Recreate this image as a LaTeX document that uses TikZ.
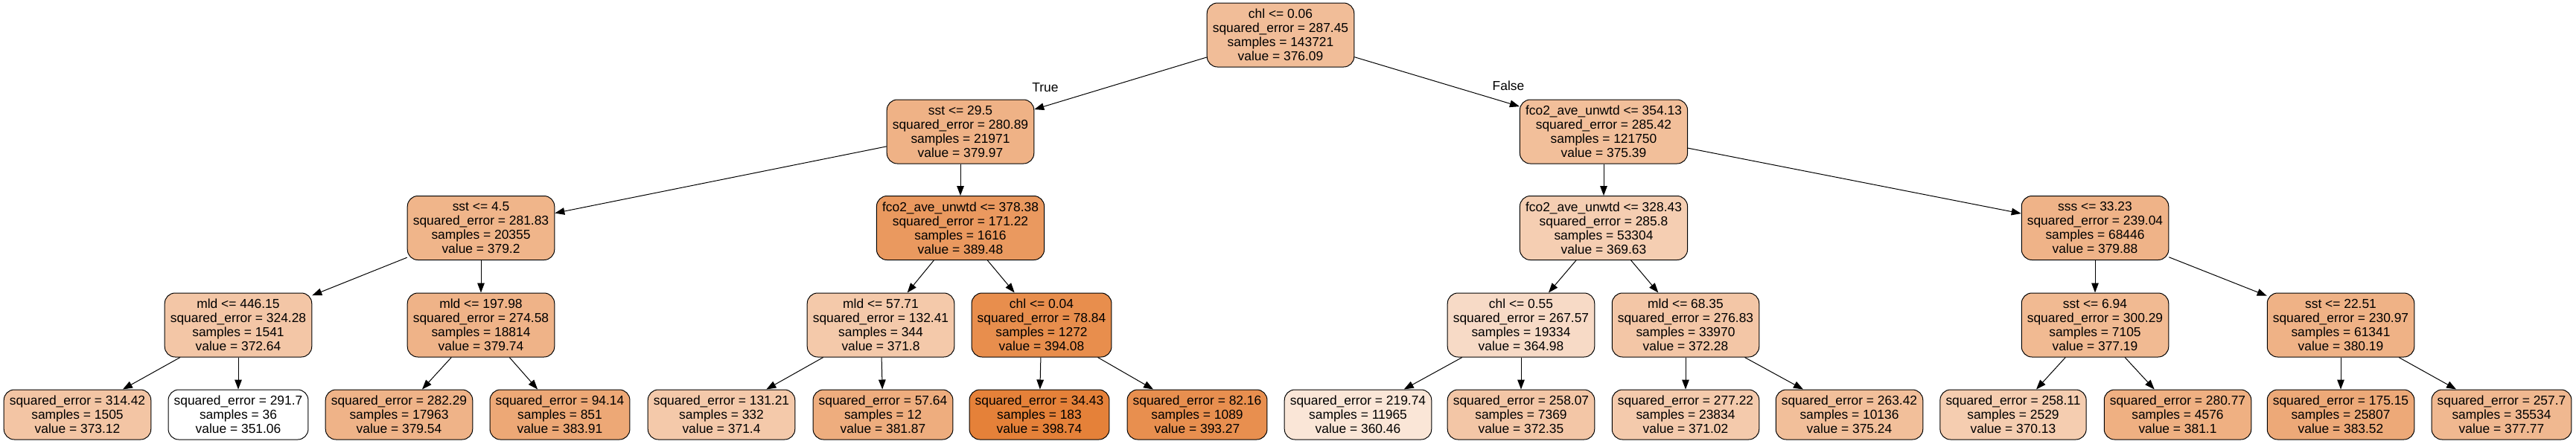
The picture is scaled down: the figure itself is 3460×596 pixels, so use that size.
\documentclass[tikz,border=0pt]{standalone}
\usepackage{fontspec}
\setmainfont{Liberation Sans}
\usetikzlibrary{arrows.meta}
\definecolor{treeorange}{HTML}{E58139}

\begin{document}
\begin{tikzpicture}[x=0.5pt,y=-0.5pt,line width=0.5pt,>={Triangle[length=6.5pt,width=4.8pt]},
    box/.style={shape=rectangle,draw=black,rounded corners=7pt,align=center,
        font=\fontsize{8.7}{9.5}\selectfont,inner xsep=3.8pt},
    split/.style={box,minimum height=43pt},
    leaf/.style={box,minimum height=33.5pt},
    lbl/.style={font=\fontsize{8.7}{9.5}\selectfont}]
    \useasboundingbox (0,0) rectangle (3460,596);
    \node[split,fill=treeorange!52] (0) at (1720,47) {chl <= 0.06\\squared\_error = 287.45\\samples = 143721\\value = 376.09};
    \node[split,fill=treeorange!61] (1) at (1290,177) {sst <= 29.5\\squared\_error = 280.89\\samples = 21971\\value = 379.97};
    \node[split,fill=treeorange!51] (16) at (2154,177) {fco2\_ave\_unwtd <= 354.13\\squared\_error = 285.42\\samples = 121750\\value = 375.39};
    \node[split,fill=treeorange!59] (2) at (646,306.5) {sst <= 4.5\\squared\_error = 281.83\\samples = 20355\\value = 379.2};
    \node[split,fill=treeorange!81] (9) at (1290,306.5) {fco2\_ave\_unwtd <= 378.38\\squared\_error = 171.22\\samples = 1616\\value = 389.48};
    \node[split,fill=treeorange!39] (17) at (2154,306.5) {fco2\_ave\_unwtd <= 328.43\\squared\_error = 285.8\\samples = 53304\\value = 369.63};
    \node[split,fill=treeorange!60] (24) at (2814,306.5) {sss <= 33.23\\squared\_error = 239.04\\samples = 68446\\value = 379.88};
    \node[split,fill=treeorange!45] (3) at (320,437) {mld <= 446.15\\squared\_error = 324.28\\samples = 1541\\value = 372.64};
    \node[split,fill=treeorange!60] (6) at (646,437) {mld <= 197.98\\squared\_error = 274.58\\samples = 18814\\value = 379.74};
    \node[split,fill=treeorange!43] (10) at (1183,437) {mld <= 57.71\\squared\_error = 132.41\\samples = 344\\value = 371.8};
    \node[split,fill=treeorange!90] (13) at (1399,437) {chl <= 0.04\\squared\_error = 78.84\\samples = 1272\\value = 394.08};
    \node[split,fill=treeorange!29] (18) at (2043,437) {chl <= 0.55\\squared\_error = 267.57\\samples = 19334\\value = 364.98};
    \node[split,fill=treeorange!45] (21) at (2264,437) {mld <= 68.35\\squared\_error = 276.83\\samples = 33970\\value = 372.28};
    \node[split,fill=treeorange!55] (25) at (2814,437) {sst <= 6.94\\squared\_error = 300.29\\samples = 7105\\value = 377.19};
    \node[split,fill=treeorange!61] (28) at (3144,437) {sst <= 22.51\\squared\_error = 230.97\\samples = 61341\\value = 380.19};
    \node[leaf,fill=treeorange!46] (4) at (104,557.5) {squared\_error = 314.42\\samples = 1505\\value = 373.12};
    \node[leaf,fill=white] (5) at (320,557.5) {squared\_error = 291.7\\samples = 36\\value = 351.06};
    \node[leaf,fill=treeorange!60] (7) at (536,557.5) {squared\_error = 282.29\\samples = 17963\\value = 379.54};
    \node[leaf,fill=treeorange!69] (8) at (752,557.5) {squared\_error = 94.14\\samples = 851\\value = 383.91};
    \node[leaf,fill=treeorange!43] (11) at (969,557.5) {squared\_error = 131.21\\samples = 332\\value = 371.4};
    \node[leaf,fill=treeorange!65] (12) at (1186,557.5) {squared\_error = 57.64\\samples = 12\\value = 381.87};
    \node[leaf,fill=treeorange] (14) at (1396,557.5) {squared\_error = 34.43\\samples = 183\\value = 398.74};
    \node[leaf,fill=treeorange!89] (15) at (1608,557.5) {squared\_error = 82.16\\samples = 1089\\value = 393.27};
    \node[leaf,fill=treeorange!20] (19) at (1824,557.5) {squared\_error = 219.74\\samples = 11965\\value = 360.46};
    \node[leaf,fill=treeorange!45] (20) at (2043,557.5) {squared\_error = 258.07\\samples = 7369\\value = 372.35};
    \node[leaf,fill=treeorange!42] (22) at (2264,557.5) {squared\_error = 277.22\\samples = 23834\\value = 371.02};
    \node[leaf,fill=treeorange!51] (23) at (2484,557.5) {squared\_error = 263.42\\samples = 10136\\value = 375.24};
    \node[leaf,fill=treeorange!40] (26) at (2704,557.5) {squared\_error = 258.11\\samples = 2529\\value = 370.13};
    \node[leaf,fill=treeorange!63] (27) at (2925,557.5) {squared\_error = 280.77\\samples = 4576\\value = 381.1};
    \node[leaf,fill=treeorange!68] (29) at (3144,557.5) {squared\_error = 175.15\\samples = 25807\\value = 383.52};
    \node[leaf,fill=treeorange!56] (30) at (3360,557.5) {squared\_error = 257.7\\samples = 35534\\value = 377.77};
    \node[lbl] (true) at (1404,118) {True};
    \node[lbl] (false) at (2026,115) {False};
    \path[->](0) edge (1);
    \path[->](0) edge (16);
    \path[->](1) edge (2);
    \path[->](1) edge (9);
    \path[->](2) edge (3);
    \path[->](2) edge (6);
    \path[->](3) edge (4);
    \path[->](3) edge (5);
    \path[->](6) edge (7);
    \path[->](6) edge (8);
    \path[->](9) edge (10);
    \path[->](9) edge (13);
    \path[->](10) edge (11);
    \path[->](10) edge (12);
    \path[->](13) edge (14);
    \path[->](13) edge (15);
    \path[->](16) edge (17);
    \path[->](16) edge (24);
    \path[->](17) edge (18);
    \path[->](17) edge (21);
    \path[->](18) edge (19);
    \path[->](18) edge (20);
    \path[->](21) edge (22);
    \path[->](21) edge (23);
    \path[->](24) edge (25);
    \path[->](24) edge (28);
    \path[->](25) edge (26);
    \path[->](25) edge (27);
    \path[->](28) edge (29);
    \path[->](28) edge (30);
\end{tikzpicture}
\end{document}
